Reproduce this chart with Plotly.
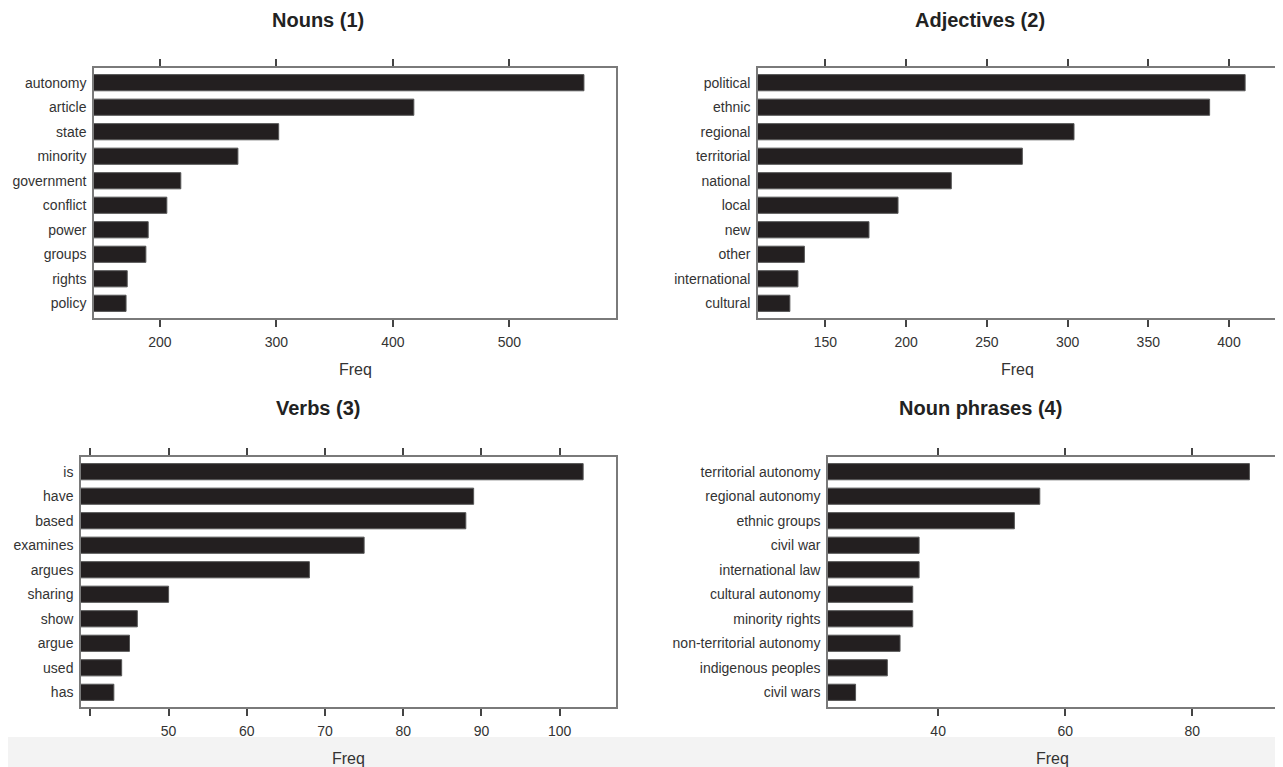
import plotly.graph_objects as go

# The page body has an 8px margin, so the figure is placed 8px in from the
# top-left corner of the window; positions below are window pixels.
OFF = 8
W, H = 1283 - OFF, 767 - OFF

# ---- data ----
nouns_labels = ["autonomy", "article", "state", "minority", "government",
                "conflict", "power", "groups", "rights", "policy"]
nouns_freq = [564, 418, 302, 267, 218, 206, 190, 188, 172, 171]

adj_labels = ["political", "ethnic", "regional", "territorial", "national",
              "local", "new", "other", "international", "cultural"]
adj_freq = [410, 388, 304, 272, 228, 195, 177, 137, 133, 128]

verb_labels = ["is", "have", "based", "examines", "argues",
               "sharing", "show", "argue", "used", "has"]
verb_freq = [103, 89, 88, 75, 68, 50, 46, 45, 44, 43]

np_labels = ["territorial autonomy", "regional autonomy", "ethnic groups",
             "civil war", "international law", "cultural autonomy",
             "minority rights", "non-territorial autonomy",
             "indigenous peoples", "civil wars"]
np_freq = [89, 56, 52, 37, 37, 36, 36, 34, 32, 27]

titles = ["Nouns (1)", "Adjectives (2)", "Verbs (3)", "Noun phrases (4)"]

nouns_ticks = [200, 300, 400, 500]
nouns_ticktext = ["200", "300", "400", "500"]
adj_ticks = [150, 200, 250, 300, 350, 400]
adj_ticktext = ["150", "200", "250", "300", "350", "400"]
verb_ticks = [40, 50, 60, 70, 80, 90, 100]
verb_ticktext = ["", "50", "60", "70", "80", "90", "100"]
np_ticks = [40, 60, 80]
np_ticktext = ["40", "60", "80"]

# ---- layout geometry (window pixels) ----
FONT = "Liberation Sans, Arial, Helvetica, sans-serif"
BAR = "#231f20"
FRAME = "#7a7a7a"
TEXT = "#333333"


def px(X):
    return (X - OFF) / W


def py(Y):
    return 1 - (Y - OFF) / H


panels = [
    dict(labels=nouns_labels, vals=nouns_freq, ticks=nouns_ticks, tt=nouns_ticktext,
         x0=94, x1=616, y0=68, y1=318, tx=318, ty=20),
    dict(labels=adj_labels, vals=adj_freq, ticks=adj_ticks, tt=adj_ticktext,
         x0=758, x1=1277, y0=68, y1=318, tx=980, ty=20),
    dict(labels=verb_labels, vals=verb_freq, ticks=verb_ticks, tt=verb_ticktext,
         x0=81, x1=616, y0=457, y1=707, tx=318, ty=408),
    dict(labels=np_labels, vals=np_freq, ticks=np_ticks, tt=np_ticktext,
         x0=828, x1=1277, y0=457, y1=707, tx=980, ty=408),
]

fig = go.Figure()
layout = dict(
    width=W, height=H,
    margin=dict(l=0, r=0, t=0, b=0),
    paper_bgcolor="white", plot_bgcolor="white",
    showlegend=False,
    font=dict(family=FONT, color=TEXT),
    annotations=[], shapes=[],
)

# light grey strip along the bottom of the picture
layout["shapes"].append(dict(type="rect", xref="paper", yref="paper",
                             x0=px(8), x1=1.0, y0=0, y1=py(737),
                             fillcolor="#f3f3f3", line=dict(width=0), layer="below"))

for i, p in enumerate(panels):
    n = i + 1
    sfx = "" if n == 1 else str(n)
    vmin, vmax = min(p["vals"]), max(p["vals"])
    pad = 0.07 * (vmax - vmin)
    lo, hi = vmin - pad, vmax + pad

    fig.add_trace(go.Bar(
        x=p["vals"], y=p["labels"], orientation="h",
        base=0, width=0.66,
        marker=dict(color=BAR, line=dict(color="#555555", width=1)),
        xaxis="x" + sfx, yaxis="y" + sfx, hoverinfo="x+y",
    ))

    layout["xaxis" + sfx] = dict(
        domain=[px(p["x0"]), min(1.0, px(p["x1"]))],
        anchor="y" + sfx, range=[lo, hi],
        tickmode="array", tickvals=p["ticks"], ticktext=p["tt"],
        ticks="outside", ticklen=7, tickwidth=1.5, tickcolor="#444444",
        showline=True, linecolor=FRAME, linewidth=1.5, mirror="ticks",
        showgrid=False, zeroline=False,
        tickfont=dict(size=14, color=TEXT, family=FONT),
        ticklabelstandoff=3,
        fixedrange=True,
    )
    layout["yaxis" + sfx] = dict(
        domain=[py(p["y1"]), py(p["y0"])],
        anchor="x" + sfx, type="category",
        categoryorder="array", categoryarray=p["labels"],
        range=[len(p["labels"]) - 0.4, -0.6],
        ticks="", showline=True, linecolor=FRAME, linewidth=1.5, mirror=True,
        showgrid=False, zeroline=False,
        tickfont=dict(size=14, color=TEXT, family=FONT),
        ticklabelstandoff=3,
        fixedrange=True,
    )

    layout["annotations"].append(dict(
        text="<b>%s</b>" % titles[i], xref="paper", yref="paper",
        x=px(p["tx"]), y=py(p["ty"]), xanchor="center", yanchor="middle",
        showarrow=False, font=dict(size=20, color="#222222", family=FONT)))
    layout["annotations"].append(dict(
        text="Freq", xref="paper", yref="paper",
        x=px((p["x0"] + p["x1"]) / 2), y=py(p["y1"] + 51),
        xanchor="center", yanchor="middle",
        showarrow=False, font=dict(size=16, color=TEXT, family=FONT)))

fig.update_layout(**layout)
fig.write_html("out.html")
